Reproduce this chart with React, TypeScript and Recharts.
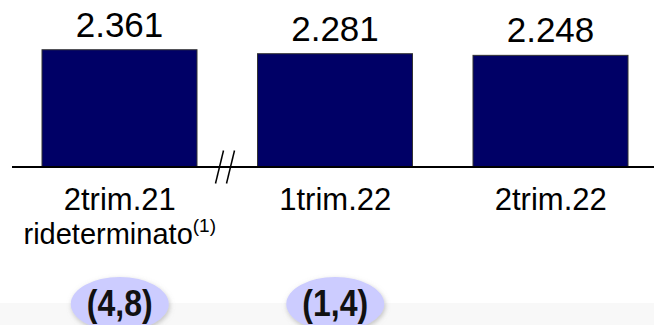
import { BarChart, Bar, XAxis, YAxis, LabelList } from "recharts";

const categories = ["2trim.21", "1trim.22", "2trim.22"];
const subtitles = ["rideterminato", "", ""];
const footnotes = ["(1)", "", ""];
const values = [2361, 2281, 2248];
const changes = ["(4,8)", "(1,4)", ""];

const chartData = categories.map((c, i) => ({
    name: c,
    value: values[i],
    sub: subtitles[i],
    note: footnotes[i],
    change: changes[i],
}));

const FONT = "'Liberation Sans', Arial, sans-serif";
const NAVY = "#000066";

const fmt = (v: number) => v.toLocaleString("it-IT");

function CategoryTick({ x, y, index }: any) {
    const d = chartData[index];
    if (!d) return null;
    return (
        <g transform={`translate(${x},${y})`}>
            <text x={0} y={43} textAnchor="middle" fontFamily={FONT} fontSize={31} fill="#000">
                {d.name}
            </text>
            {d.sub && (
                <text x={0} y={77} textAnchor="middle" fontFamily={FONT} fontSize={29} fill="#000">
                    {d.sub}
                    <tspan fontSize={19} dy={-12}>{d.note}</tspan>
                </text>
            )}
            {d.change && (
                <g>
                    <ellipse cx={0} cy={137} rx={49} ry={27} fill="#CCCCFF" filter="url(#softShadow)" />
                    <text
                        transform="translate(0,149) scale(1,1.15)"
                        textAnchor="middle"
                        fontFamily={FONT}
                        fontWeight="bold"
                        fontSize={32}
                        fill="#111"
                    >
                        {d.change}
                    </text>
                </g>
            )}
        </g>
    );
}

function BarWithBreak(props: any) {
    const { x, y, width, height, index } = props;
    const base = y + height;
    // axis break "//" between the restated quarter and the others
    const cx = x + width + 28;
    return (
        <g>
            <rect x={x} y={y} width={width} height={height} fill={NAVY} stroke="#333" strokeWidth={1} />
            {index === 0 && (
                <g>
                    <rect x={cx - 5.5} y={base - 2} width={11} height={4} fill="#fff" />
                    <line x1={cx - 9.5} y1={base + 16.5} x2={cx - 1.5} y2={base - 16.5} stroke="#000" strokeWidth={1.5} />
                    <line x1={cx + 1.5} y1={base + 16.5} x2={cx + 9.5} y2={base - 16.5} stroke="#000" strokeWidth={1.5} />
                </g>
            )}
        </g>
    );
}

export default function App() {
    return (
        <div
            style={{
                position: "absolute",
                left: 0,
                top: 0,
                width: 654,
                height: 325,
                overflow: "hidden",
                background: "linear-gradient(#fff 0, #fff 303px, #f8f8f8 303px)",
            }}
        >
            <svg width={0} height={0} style={{ position: "absolute" }}>
                <defs>
                    <filter id="softShadow" x="-30%" y="-40%" width="160%" height="180%">
                        <feDropShadow dx={1} dy={2} stdDeviation={2.5} floodColor="#888" floodOpacity={0.5} />
                    </filter>
                </defs>
            </svg>
            <BarChart
                width={660}
                height={325}
                data={chartData}
                margin={{ top: 18, right: 1.5, left: 12, bottom: 0 }}
                barSize={155}
            >
                <YAxis hide domain={[0, 3000]} />
                <XAxis
                    dataKey="name"
                    height={158}
                    axisLine={{ stroke: "#000", strokeWidth: 2 }}
                    tickLine={false}
                    tickSize={0}
                    tickMargin={0}
                    interval={0}
                    tick={<CategoryTick />}
                />
                <Bar dataKey="value" isAnimationActive={false} shape={<BarWithBreak />}>
                    <LabelList
                        dataKey="value"
                        position="top"
                        offset={13}
                        content={(p: any) => (
                            <text
                                x={p.x + p.width / 2}
                                y={p.y - 13}
                                textAnchor="middle"
                                fontFamily={FONT}
                                fontSize={35}
                                fill="#000"
                            >
                                {fmt(p.value)}
                            </text>
                        )}
                    />
                </Bar>
            </BarChart>
        </div>
    );
}
